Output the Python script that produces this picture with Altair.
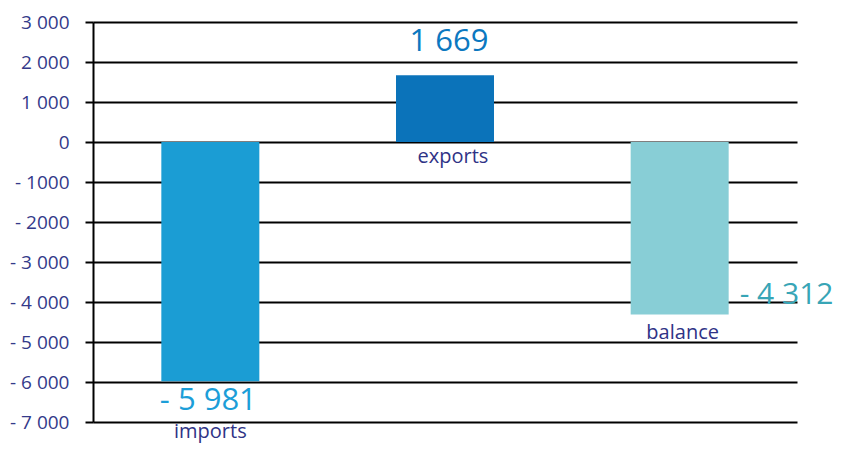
import altair as alt
import pandas as pd

categories = ["imports", "exports", "balance"]
values = [-5981, 1669, -4312]
value_labels = ["- 5 981", "1 669", "- 4 312"]
bar_colors = ["#1b9dd4", "#0b73ba", "#88ced6"]
label_colors = ["#1c9ed8", "#0b78c0", "#38a5b6"]

tick_values = [3000, 2000, 1000, 0, -1000, -2000, -3000, -4000, -5000, -6000, -7000]
tick_labels = ["3 000", "2 000", "1 000", "0", "- 1000", "- 2000", "- 3 000",
               "- 4 000", "- 5 000", "- 6 000", "- 7 000"]

df = pd.DataFrame({
    "category": categories,
    "value": values,
    "zero": [0, 0, 0],
    "vlabel": value_labels,
    "barcolor": bar_colors,
    "labcolor": label_colors,
})

label_map = "{" + ",".join(f"'{v}':'{t}'" for v, t in zip(tick_values, tick_labels)) + "}"

FONT = "Open Sans"
CAT_COLOR = "#2f3386"

x = alt.X("category:N", sort=categories, axis=None,
          scale=alt.Scale(paddingInner=0, paddingOuter=0))
y_scale = alt.Scale(domain=[-7000, 3000], nice=False, zero=False)
y_axis = alt.Axis(values=tick_values, tickCount=11,
                  labelExpr=f"{label_map}[datum.value]",
                  labelOverlap=False, labelFlush=False,
                  grid=True, gridColor="black", gridWidth=2, gridOpacity=1,
                  domain=True, domainColor="black", domainWidth=2,
                  ticks=True, tickColor="black", tickWidth=2, tickSize=8,
                  labelFont=FONT, labelFontSize=19, labelColor="#343a8a",
                  labelPadding=16, title=None)


def yenc(field):
    return alt.Y(f"{field}:Q", scale=y_scale, axis=y_axis, title=None)


base = alt.Chart(df)

bars = base.mark_bar(size=98).encode(
    x=x,
    y=yenc("value"),
    y2="zero:Q",
    color=alt.Color("barcolor:N", scale=None),
)


def vtext(cat, dx, dy, align="center", size=31):
    return base.transform_filter(alt.datum.category == cat).mark_text(
        font=FONT, fontSize=size, dx=dx, dy=dy, align=align, baseline="middle"
    ).encode(x=x, y=yenc("value"), text="vlabel:N",
             color=alt.Color("labcolor:N", scale=None))


def ctext(cat, field, dx, dy):
    return base.transform_filter(alt.datum.category == cat).mark_text(
        font=FONT, fontSize=20, dx=dx, dy=dy, align="center", baseline="middle",
        color=CAT_COLOR
    ).encode(x=x, y=yenc(field), text="category:N")


chart = alt.layer(
    bars,
    vtext("imports", -2, 20),
    vtext("exports", 4, -33),
    vtext("balance", 60, -19, align="left", size=30),
    ctext("imports", "value", 0, 51),
    ctext("exports", "zero", 8, 15),
    ctext("balance", "value", 3, 19),
).properties(
    width=704, height=400,
    autosize=alt.AutoSizeParams(type="none"),
    padding={"left": 85, "top": 14, "right": 38, "bottom": 25},
).configure_view(stroke=None)

chart.save("out.html", embed_options={"renderer": "svg", "actions": False})
